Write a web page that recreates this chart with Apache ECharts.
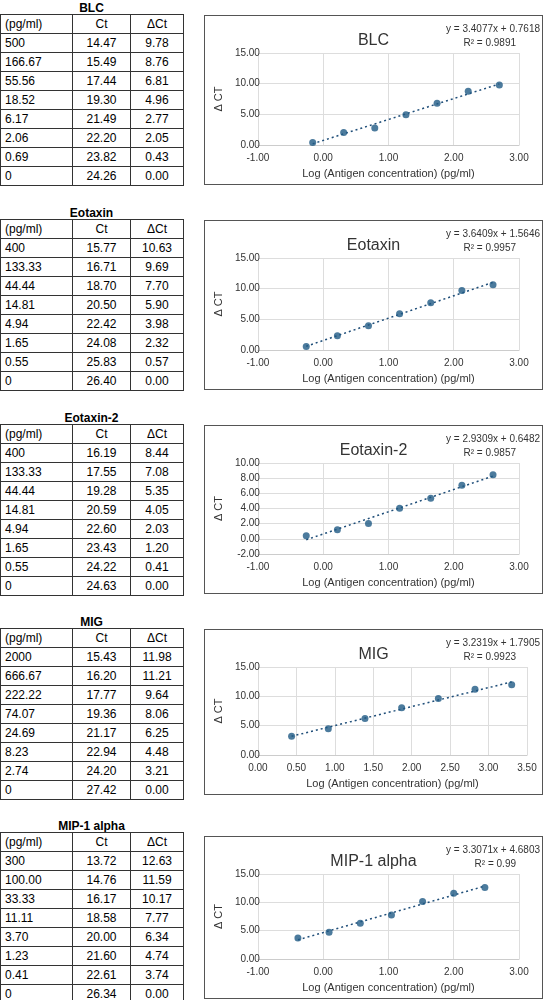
<!DOCTYPE html>
<html><head><meta charset="utf-8">
<script src="https://cdn.jsdelivr.net/npm/echarts@6/dist/echarts.min.js"></script>
<style>
body{margin:0;width:549px;height:1000px;background:#fff;font-family:"Liberation Sans",Arial,sans-serif;position:relative;overflow:hidden}
.tt{position:absolute;left:0;width:183px;text-align:center;font-weight:bold;font-size:12px}
table{position:absolute;left:0;border-collapse:collapse;font-size:12px;table-layout:fixed}
tr{height:19px}
td{border:1px solid #333;padding:0 4px;line-height:17px;height:17px;box-sizing:border-box}
td.c{text-align:center}
.box{position:absolute;left:204px;width:339px;border:1px solid #555;box-sizing:border-box}
</style></head><body>
<script>
const names=["BLC","Eotaxin","Eotaxin-2","MIG","MIP-1 alpha"];
const conc=[
 ["500","166.67","55.56","18.52","6.17","2.06","0.69","0"],
 ["400","133.33","44.44","14.81","4.94","1.65","0.55","0"],
 ["400","133.33","44.44","14.81","4.94","1.65","0.55","0"],
 ["2000","666.67","222.22","74.07","24.69","8.23","2.74","0"],
 ["300","100.00","33.33","11.11","3.70","1.23","0.41","0"]];
const ct=[
 ["14.47","15.49","17.44","19.30","21.49","22.20","23.82","24.26"],
 ["15.77","16.71","18.70","20.50","22.42","24.08","25.83","26.40"],
 ["16.19","17.55","19.28","20.59","22.60","23.43","24.22","24.63"],
 ["15.43","16.20","17.77","19.36","21.17","22.94","24.20","27.42"],
 ["13.72","14.76","16.17","18.58","20.00","21.60","22.61","26.34"]];
const dct=[
 ["9.78","8.76","6.81","4.96","2.77","2.05","0.43","0.00"],
 ["10.63","9.69","7.70","5.90","3.98","2.32","0.57","0.00"],
 ["8.44","7.08","5.35","4.05","2.03","1.20","0.41","0.00"],
 ["11.98","11.21","9.64","8.06","6.25","4.48","3.21","0.00"],
 ["12.63","11.59","10.17","7.77","6.34","4.74","3.74","0.00"]];
const slope=[3.4077,3.6409,2.9309,3.2319,3.3071];
const intercept=[0.7618,1.5646,0.6482,1.7905,4.6803];
const eqText=["y = 3.4077x + 0.7618","y = 3.6409x + 1.5646","y = 2.9309x + 0.6482","y = 3.2319x + 1.7905","y = 3.3071x + 4.6803"];
const r2Text=["R² = 0.9891","R² = 0.9957","R² = 0.9857","R² = 0.9923","R² = 0.99"];
const xAxes=[[-1,3,1],[-1,3,1],[-1,3,1],[0,3.5,0.5],[-1,3,1]];
const yAxes=[[0,15,5],[0,15,5],[-2,10,2],[0,15,5],[0,15,5]];
const xName="Log (Antigen concentration) (pg/ml)";
const tops=[0,205,410,614,818];
const boxH=[170,170,169,166,163];
names.forEach((n,i)=>{
  const t=tops[i];
  const h=document.createElement('div');h.className='tt';h.style.top=(t+1)+'px';h.textContent=n;document.body.appendChild(h);
  const tb=document.createElement('table');tb.style.top=(t+14)+'px';tb.style.width='183px';
  let html='<colgroup><col style="width:72px"><col style="width:58px"><col style="width:53px"></colgroup><tr><td>(pg/ml)</td><td class="c">Ct</td><td class="c">ΔCt</td></tr>';
  for(let r=0;r<8;r++)html+=`<tr><td>${conc[i][r]}</td><td class="c">${ct[i][r]}</td><td class="c">${dct[i][r]}</td></tr>`;
  tb.innerHTML=html;document.body.appendChild(tb);
  const b=document.createElement('div');b.className='box';b.style.top=(t+15+(i==4?3:0))+'px';b.style.height=boxH[i]+'px';document.body.appendChild(b);
  const ch=echarts.init(b);
  const pts=[];for(let r=0;r<7;r++)pts.push([Math.log10(parseFloat(conc[i][r])),parseFloat(dct[i][r])]);
  const xs=pts.map(p=>p[0]);const x0=Math.min(...xs),x1=Math.max(...xs);
  const line=[[x0,slope[i]*x0+intercept[i]],[x1,slope[i]*x1+intercept[i]]];
  const ax=xAxes[i],ay=yAxes[i];
  const lab={color:'#333',fontSize:10,fontFamily:'Liberation Sans'};
  ch.setOption({animation:false,
   grid:{left:i==3?38:26,right:i==3?15:23,top:37,bottom:38},
   title:{text:n,left:'center',top:12,textStyle:{fontSize:16,fontWeight:'normal',color:'#333',fontFamily:'Liberation Sans'}},
   graphic:[{type:'text',right:2,top:8,style:{text:eqText[i],fontSize:10,fill:'#333',fontFamily:'Liberation Sans'}},
            {type:'text',right:26,top:22,style:{text:r2Text[i],fontSize:10,fill:'#333',fontFamily:'Liberation Sans'}}],
   xAxis:{type:'value',min:ax[0],max:ax[1],interval:ax[2],name:xName,nameLocation:'middle',nameGap:20,nameTextStyle:{fontSize:11,color:'#333'},
     axisLine:{onZero:false,lineStyle:{color:'#ccc'}},axisTick:{show:false},axisLabel:Object.assign({formatter:v=>v.toFixed(2)},lab),splitLine:{lineStyle:{color:'#ddd'}}},
   yAxis:{type:'value',min:ay[0],max:ay[1],interval:ay[2],name:'Δ CT',nameLocation:'middle',nameGap:i==3?12:6,nameRotate:90,nameTextStyle:{fontSize:11,color:'#333'},
     axisLine:{show:false},axisTick:{show:false},axisLabel:Object.assign({formatter:v=>v.toFixed(2),margin:-2},lab),splitLine:{lineStyle:{color:'#ddd'}}},
   series:[{type:'line',data:line,symbol:'none',lineStyle:{type:[2,3],color:'#1f4e79',width:1.5},z:1},
           {type:'scatter',data:pts,symbolSize:7,itemStyle:{color:'#1f5a85'},z:2}]});
});
</script></body></html>
